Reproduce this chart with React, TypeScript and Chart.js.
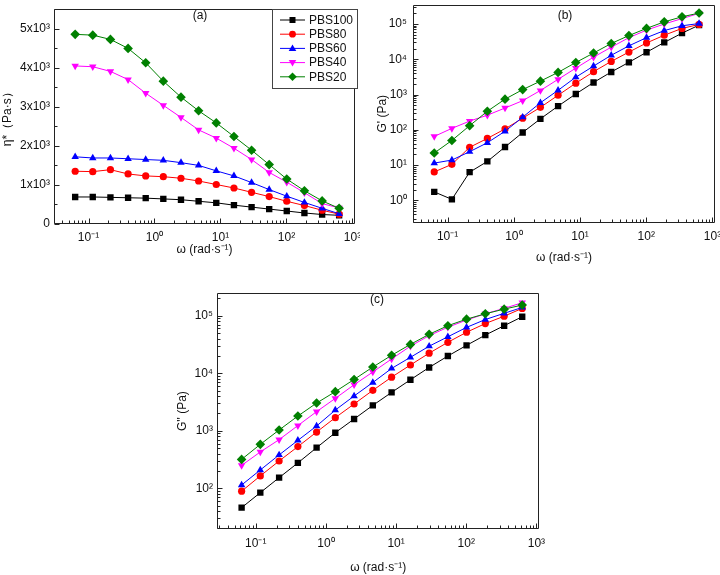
import React, { useEffect, useRef } from 'react';
import { Chart, registerables } from 'chart.js';

Chart.register(...registerables);

// ---------- data ----------
const omega = [0.0628, 0.116, 0.215, 0.398, 0.736, 1.36, 2.52, 4.66, 8.63, 16.0, 29.6, 54.7, 101, 187, 347, 628];
const seriesNames = ['PBS100', 'PBS80', 'PBS60', 'PBS40', 'PBS20'];
const seriesColors = ['#000000', '#ff0000', '#0000ff', '#ff00ff', '#008000'];

// (a) complex viscosity η* (Pa·s)
const etaPBS100 = [680, 680, 670, 660, 650, 630, 610, 570, 530, 470, 420, 370, 320, 270, 230, 210];
const etaPBS80 = [1340, 1330, 1380, 1270, 1220, 1200, 1160, 1090, 1000, 910, 800, 690, 570, 460, 340, 240];
const etaPBS60 = [1710, 1680, 1680, 1660, 1640, 1620, 1560, 1490, 1350, 1220, 1050, 870, 700, 540, 390, 250];
const etaPBS40 = [4040, 4020, 3900, 3690, 3340, 3030, 2720, 2400, 2190, 1930, 1640, 1310, 1060, 790, 510, 400];
const etaPBS20 = [4850, 4830, 4720, 4490, 4120, 3650, 3240, 2890, 2580, 2230, 1880, 1510, 1140, 840, 580, 390];

// (b) storage modulus G' (Pa)
const gpPBS100 = [1.74, 1.07, 6.3, 12.7, 32.6, 84, 205, 470, 1040, 2200, 4360, 8200, 15800, 30000, 55000, 93000];
const gpPBS80 = [6.4, 10.5, 32, 57, 106, 214, 433, 955, 2100, 4450, 8700, 16000, 29000, 48000, 75000, 97000];
const gpPBS60 = [11.4, 13.9, 24, 43, 91, 228, 585, 1320, 3100, 6400, 13000, 24000, 41000, 65000, 89000, 103000];
const gpPBS40 = [65, 110, 177, 260, 415, 670, 1300, 2700, 5600, 11500, 22000, 41000, 67000, 100000, 142000, 200000];
const gpPBS20 = [22, 50, 131, 336, 740, 1380, 2400, 4250, 8100, 15000, 28000, 47000, 75000, 115000, 160000, 204000];

// (c) loss modulus G'' (Pa)
const gppPBS100 = [46, 84, 153, 276, 508, 925, 1600, 2760, 4640, 7700, 12600, 19900, 30500, 46000, 67000, 96000];
const gppPBS80 = [89, 164, 298, 530, 950, 1690, 2920, 5040, 8540, 13900, 22300, 34500, 51500, 73000, 98000, 134000];
const gppPBS60 = [114, 208, 380, 680, 1210, 2290, 4020, 6900, 12100, 18900, 29500, 43000, 62600, 85800, 110000, 139000];
const gppPBS40 = [250, 428, 700, 1230, 2150, 3650, 6300, 10500, 17700, 29500, 45000, 63000, 84000, 108000, 134000, 168000];
const gppPBS20 = [318, 580, 1030, 1800, 3030, 4780, 7800, 12800, 20500, 31700, 47500, 67000, 87000, 108000, 130000, 153000];

// tick labels
const etaTickValues = [0, 1000, 2000, 3000, 4000, 5000];
const etaTickLabels = ['0', '1x10³', '2x10³', '3x10³', '4x10³', '5x10³'];
const supDigits: Record<string, string> = { '-': '⁻', '0': '⁰', '1': '¹', '2': '²', '3': '³', '4': '⁴', '5': '⁵', '6': '⁶', '7': '⁷', '8': '⁸', '9': '⁹' };

// ---------- helpers ----------
const FONT = '"Liberation Sans", Arial, sans-serif';
const pointStyles = ['rect', 'circle', 'triangle', 'triangle', 'rectRot'];
const pointRotations = [0, 0, 0, 180, 0];
const pointRadii = [4.5, 3.6, 4.3, 4.3, 4.8];

function decadeLabel(v: number): string {
  const l = Math.log10(v);
  const r = Math.round(l);
  if (Math.abs(l - r) > 1e-6) return '';
  return '10' + String(r).split('').map((c) => supDigits[c]).join('');
}

function etaLabel(v: number): string {
  for (let i = 0; i < etaTickValues.length; i++) {
    if (Math.abs(etaTickValues[i] - v) < 1e-3) return etaTickLabels[i];
  }
  return '';
}

function buildDatasets(values: number[][]) {
  return values.map((vals, i) => ({
    label: seriesNames[i],
    data: omega.map((x, j) => ({ x, y: vals[j] })),
    borderColor: seriesColors[i],
    backgroundColor: seriesColors[i],
    borderWidth: 1,
    pointStyle: pointStyles[i],
    pointRotation: pointRotations[i],
    pointRadius: pointRadii[i],
    pointBorderWidth: 0,
    tension: 0,
    order: 4 - i,
  }));
}

function logTickList(min: number, max: number) {
  const out: { v: number; major: boolean }[] = [];
  for (let d = Math.floor(Math.log10(min)); d <= Math.ceil(Math.log10(max)); d++) {
    for (let m = 1; m <= 9; m++) {
      const v = m * Math.pow(10, d);
      if (v >= min * 0.9999 && v <= max * 1.0001) out.push({ v, major: m === 1 });
    }
  }
  return out;
}

function framePlugin(cfg: { yLinear?: boolean; panelLabel: string; lx: number; ly: number; legend?: boolean }) {
  return {
    id: 'frameExtras',
    afterDatasetsDraw(chart: any) {
      const { ctx, chartArea: a, scales } = chart;
      const l = Math.round(a.left) + 0.5;
      const r = Math.round(a.right) - 0.5;
      const t = Math.round(a.top) + 0.5;
      const b = Math.round(a.bottom) - 0.5;
      ctx.save();
      ctx.strokeStyle = '#222';
      ctx.lineWidth = 1;
      ctx.beginPath();
      ctx.rect(l, t, r - l, b - t);
      const xs = scales.x;
      for (const tk of logTickList(xs.min, xs.max)) {
        const px = Math.round(xs.getPixelForValue(tk.v)) + 0.5;
        const len = tk.major ? 5 : 3;
        ctx.moveTo(px, b);
        ctx.lineTo(px, b - len);
      }
      const ys = scales.y;
      if (cfg.yLinear) {
        for (let v = 0; v <= ys.max; v += 500) {
          const py = Math.round(ys.getPixelForValue(v)) + 0.5;
          const len = v % 1000 === 0 ? 5 : 3;
          ctx.moveTo(l, py);
          ctx.lineTo(l + len, py);
        }
      } else {
        for (const tk of logTickList(ys.min, ys.max)) {
          const py = Math.round(ys.getPixelForValue(tk.v)) + 0.5;
          const len = tk.major ? 5 : 3;
          ctx.moveTo(l, py);
          ctx.lineTo(l + len, py);
        }
      }
      ctx.stroke();

      // panel label
      ctx.fillStyle = '#111';
      ctx.font = `12px ${FONT}`;
      ctx.textAlign = 'center';
      ctx.textBaseline = 'middle';
      ctx.fillText(cfg.panelLabel, cfg.lx, cfg.ly);

      if (cfg.legend) {
        const bx = 272.5, by = 9.5, bw = 85, bh = 79;
        ctx.fillStyle = '#fff';
        ctx.fillRect(bx, by, bw, bh);
        ctx.strokeStyle = '#444';
        ctx.strokeRect(bx, by, bw, bh);
        seriesNames.forEach((name, i) => {
          const y = 20 + i * 14.2;
          const c = seriesColors[i];
          ctx.strokeStyle = c;
          ctx.lineWidth = 1;
          ctx.beginPath();
          ctx.moveTo(280, y);
          ctx.lineTo(305, y);
          ctx.stroke();
          ctx.fillStyle = c;
          const mx = 292.5;
          ctx.beginPath();
          if (i === 0) ctx.rect(mx - 3, y - 3, 6, 6);
          else if (i === 1) ctx.arc(mx, y, 3.4, 0, Math.PI * 2);
          else if (i === 2) { ctx.moveTo(mx, y - 4); ctx.lineTo(mx + 3.8, y + 2.6); ctx.lineTo(mx - 3.8, y + 2.6); ctx.closePath(); }
          else if (i === 3) { ctx.moveTo(mx, y + 4); ctx.lineTo(mx + 3.8, y - 2.6); ctx.lineTo(mx - 3.8, y - 2.6); ctx.closePath(); }
          else { ctx.moveTo(mx, y - 4.3); ctx.lineTo(mx + 4.3, y); ctx.lineTo(mx, y + 4.3); ctx.lineTo(mx - 4.3, y); ctx.closePath(); }
          ctx.fill();
          ctx.fillStyle = '#111';
          ctx.textAlign = 'left';
          ctx.font = `12px ${FONT}`;
          ctx.fillText(name, 309, y + 0.5);
        });
      }
      ctx.restore();
    },
  };
}

type PanelCfg = {
  values: number[][];
  xMin: number; xMax: number;
  yLinear?: boolean; yMin: number; yMax: number;
  yWidth: number; xHeight: number; padTop: number; padRight: number;
  yTitle: string; yTitlePad: number; xTitlePad: number; yTickPad: number; xTickPad: number;
  panelLabel: string; lx: number; ly: number; legend?: boolean;
};

function makeConfig(p: PanelCfg): any {
  const tickFont = { family: FONT, size: 12 };
  const titleFont = { family: FONT, size: 12 };
  return {
    type: 'line',
    data: { datasets: buildDatasets(p.values) },
    options: {
      animation: false,
      responsive: false,
      events: [],
      layout: { padding: { top: p.padTop, right: p.padRight, left: 0, bottom: 0 } },
      plugins: { legend: { display: false }, tooltip: { enabled: false } },
      scales: {
        x: {
          type: 'logarithmic',
          min: p.xMin,
          max: p.xMax,
          grid: { display: false, drawTicks: false },
          border: { display: false },
          ticks: {
            autoSkip: false,
            maxRotation: 0,
            padding: p.xTickPad,
            color: '#111',
            font: tickFont,
            callback: (v: any) => decadeLabel(Number(v)),
          },
          title: { display: true, text: 'ω (rad·s⁻¹)', color: '#111', font: titleFont, padding: { top: 0, bottom: p.xTitlePad } },
          afterFit: (s: any) => { s.height = p.xHeight; s.paddingLeft = 0; s.paddingRight = 0; },
        },
        y: {
          type: p.yLinear ? 'linear' : 'logarithmic',
          min: p.yMin,
          max: p.yMax,
          grid: { display: false, drawTicks: false },
          border: { display: false },
          ticks: p.yLinear
            ? {
                stepSize: 500,
                autoSkip: false,
                padding: p.yTickPad,
                color: '#111',
                font: tickFont,
                callback: (v: any) => etaLabel(Number(v)),
              }
            : {
                autoSkip: false,
                padding: p.yTickPad,
                color: '#111',
                font: tickFont,
                callback: (v: any) => decadeLabel(Number(v)),
              },
          afterBuildTicks: p.yLinear
            ? (s: any) => { s.ticks = etaTickValues.map((v) => ({ value: v })); }
            : undefined,
          title: { display: true, text: p.yTitle, color: '#111', font: titleFont, padding: { top: p.yTitlePad, bottom: 0 } },
          afterFit: (s: any) => { s.width = p.yWidth; s.paddingTop = 0; s.paddingBottom = 0; },
        },
      },
    },
    plugins: [framePlugin({ yLinear: p.yLinear, panelLabel: p.panelLabel, lx: p.lx, ly: p.ly, legend: p.legend })],
  };
}

function Panel({ left, top, width, height, cfg }: { left: number; top: number; width: number; height: number; cfg: PanelCfg }) {
  const ref = useRef<HTMLCanvasElement>(null);
  useEffect(() => {
    const chart = new Chart(ref.current as HTMLCanvasElement, makeConfig(cfg));
    return () => chart.destroy();
  }, []);
  return (
    <canvas
      ref={ref}
      width={width}
      height={height}
      style={{ position: 'absolute', left, top, width, height, display: 'block' }}
    />
  );
}

const panelA: PanelCfg = {
  values: [etaPBS100, etaPBS80, etaPBS60, etaPBS40, etaPBS20],
  xMin: 0.03, xMax: 1100, yLinear: true, yMin: 0, yMax: 5500,
  yWidth: 54, xHeight: 61.5, padTop: 9, padRight: 2,
  yTitle: 'η*（Pa·s）', yTitlePad: 0, xTitlePad: 28, yTickPad: 4, xTickPad: 7,
  panelLabel: '(a)', lx: 200, ly: 16, legend: true,
};

const panelB: PanelCfg = {
  values: [gpPBS100, gpPBS80, gpPBS60, gpPBS40, gpPBS20],
  xMin: 0.03, xMax: 1100, yMin: 0.233, yMax: 350000,
  yWidth: 53, xHeight: 62.3, padTop: 1, padRight: 1,
  yTitle: "G' (Pa)", yTitlePad: 15, xTitlePad: 20, yTickPad: 6, xTickPad: 7,
  panelLabel: '(b)', lx: 205, ly: 16,
};

const panelC: PanelCfg = {
  values: [gppPBS100, gppPBS80, gppPBS60, gppPBS40, gppPBS20],
  xMin: 0.028, xMax: 1100, yMin: 19.6, yMax: 245000,
  yWidth: 67, xHeight: 46, padTop: 8.3, padRight: 20.7,
  yTitle: "G'' (Pa)", yTitlePad: 25, xTitlePad: 0, yTickPad: 4, xTickPad: 7,
  panelLabel: '(c)', lx: 227, ly: 15,
};

export default function App() {
  return (
    <div style={{ position: 'absolute', left: 0, top: 0, width: 720, height: 575, background: '#fff', overflow: 'hidden' }}>
      <Panel left={0} top={0} width={360} height={285} cfg={panelA} />
      <Panel left={360} top={0} width={360} height={285} cfg={panelB} />
      <Panel left={150} top={285} width={410} height={290} cfg={panelC} />
    </div>
  );
}
